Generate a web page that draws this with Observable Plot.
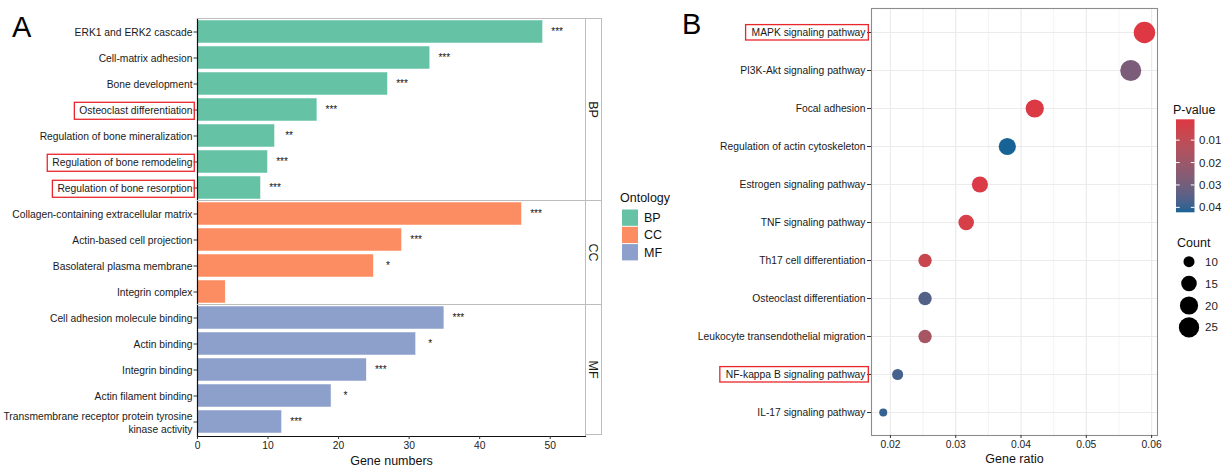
<!DOCTYPE html>
<html><head><meta charset="utf-8">
<script src="https://cdn.jsdelivr.net/npm/d3@7"></script>
<script src="https://cdn.jsdelivr.net/npm/@observablehq/plot@0.6"></script>
<style>
html,body{margin:0;padding:0;overflow:hidden;background:#fff;font-family:"Liberation Sans",Arial,sans-serif;}
#root{position:relative;width:1222px;height:466px;overflow:hidden;}
.panel{position:absolute;top:0;}
.tag{position:absolute;font-size:29px;line-height:29px;color:#000;font-family:"Liberation Sans",Arial,sans-serif;}
</style></head><body><div id="root"></div>
<script>
// ---------- Panel A data (GO enrichment) ----------
const goTerms = [
  "ERK1 and ERK2 cascade","Cell-matrix adhesion","Bone development","Osteoclast differentiation",
  "Regulation of bone mineralization","Regulation of bone remodeling","Regulation of bone resorption",
  "Collagen-containing extracellular matrix","Actin-based cell projection","Basolateral plasma membrane","Integrin complex",
  "Cell adhesion molecule binding","Actin binding","Integrin binding","Actin filament binding",
  "Transmembrane receptor protein tyrosine\nkinase activity"
];
const goCounts = [49,33,27,17,11,10,9, 46,29,25,4, 35,31,24,19,12];
const goOntology = ["BP","BP","BP","BP","BP","BP","BP","CC","CC","CC","CC","MF","MF","MF","MF","MF"];
const goStars = ["***","***","***","***","**","***","***","***","***","*","","***","*","***","*","***"];
const ontologies = ["BP","CC","MF"];
const ontologyColors = ["#66C2A5","#FC8D62","#8DA0CB"];
const goTicks = [0,10,20,30,40,50];
const goHighlight = ["Osteoclast differentiation","Regulation of bone remodeling","Regulation of bone resorption"];

// ---------- Panel B data (KEGG enrichment) ----------
const keggTerms = [
  "MAPK signaling pathway","PI3K-Akt signaling pathway","Focal adhesion","Regulation of actin cytoskeleton",
  "Estrogen signaling pathway","TNF signaling pathway","Th17 cell differentiation","Osteoclast differentiation",
  "Leukocyte transendothelial migration","NF-kappa B signaling pathway","IL-17 signaling pathway"
];
const keggRatio = [0.0589,0.0568,0.0421,0.0379,0.0337,0.0316,0.0253,0.0253,0.0253,0.0211,0.0189];
const keggCount = [28,27,20,18,16,15,12,12,12,10,9];
const keggP = [0.0007,0.028,0.0015,0.0422,0.002,0.003,0.0068,0.036,0.017,0.038,0.040];
const ratioTicks = [0.02,0.03,0.04,0.05,0.06];
const ratioMinor = [0.025,0.035,0.045,0.055];
const countBreaks = [10,15,20,25];
const pBreaks = [0.01,0.02,0.03,0.04];
const keggHighlight = ["MAPK signaling pathway","NF-kappa B signaling pathway"];

const FONT = "Liberation Sans, Arial, sans-serif";
const TICK_FS = 10.3;
const root = document.getElementById("root");
const SVGNS = "http://www.w3.org/2000/svg";

function boxLabels(svg, names, padL, padR, padV) {
  svg.querySelectorAll('g[aria-label="y-axis tick label"] text').forEach(t => {
    if (names.includes(t.textContent)) {
      const b = t.getBBox();
      const r = document.createElementNS(SVGNS, "rect");
      r.setAttribute("x", b.x - padL);
      r.setAttribute("y", b.y - padV);
      r.setAttribute("width", b.width + padL + padR);
      r.setAttribute("height", b.height + 2 * padV);
      r.setAttribute("fill", "none");
      r.setAttribute("stroke", "#E8262B");
      r.setAttribute("stroke-width", 1.3);
      if (t.getAttribute("transform")) r.setAttribute("transform", t.getAttribute("transform"));
      t.parentNode.appendChild(r);
    }
  });
}

// ---------- Panel A ----------
const goData = goTerms.map((t, i) => ({term: t, count: goCounts[i], ont: goOntology[i], stars: goStars[i]}));
const chartA = Plot.plot({
  width: 680, height: 466,
  marginLeft: 197, marginRight: 95, marginTop: 18, marginBottom: 30,
  style: {fontFamily: FONT, fontSize: TICK_FS + "px", color: "#222", background: "transparent", overflow: "visible"},
  x: {domain: [0, 55], ticks: goTicks, label: null},
  y: {domain: goTerms, paddingInner: 0.1, paddingOuter: 0.05, label: null},
  color: {domain: ontologies, range: ontologyColors},
  marks: [
    Plot.barX(goData, {x: "count", y: "term", fill: "ont", stroke: "white", strokeWidth: 0.5}),
    Plot.text(goData, {x: "count", y: "term", text: "stars", dx: 14, fontSize: 10, fill: "#111"}),
    Plot.frame({stroke: "#BDBDBD"}),
    Plot.frame({anchor: "left", stroke: "#111", strokeWidth: 1.2}),
    Plot.frame({anchor: "bottom", stroke: "#111", strokeWidth: 1.2}),
    Plot.axisX({ticks: goTicks, tickSize: 3, tickPadding: 2, stroke: "#333", fill: "#222", fontSize: TICK_FS, label: null}),
    Plot.axisY({tickSize: 3.5, tickPadding: 1.5, stroke: "#333", fill: "#1a1a1a", fontSize: TICK_FS, lineHeight: 1.3, label: null}),
    Plot.text(["Gene numbers"], {frameAnchor: "bottom", dy: 28, text: d => d, fontSize: 12.5, fill: "#111"})
  ]
});
chartA.classList.add("panel");
chartA.style.left = "0px";
root.appendChild(chartA);

(function decorateA() {
  const svg = d3.select(chartA);
  const sy = chartA.scale("y");
  const sx = chartA.scale("x");
  const x0 = sx.range[0], x1 = sx.range[1];
  const gap = (sy.step - sy.bandwidth) / 2;
  const stripW = 16;
  const g = svg.append("g");
  ontologies.forEach(o => {
    const terms = goTerms.filter((t, i) => goOntology[i] === o);
    const top = sy.apply(terms[0]) - gap;
    const bot = sy.apply(terms[terms.length - 1]) + sy.bandwidth + gap;
    g.append("rect").attr("x", x1 + 0.5).attr("y", top).attr("width", stripW).attr("height", bot - top)
      .attr("fill", "#fff").attr("stroke", "#BDBDBD");
    g.append("line").attr("x1", x0).attr("x2", x1).attr("y1", top).attr("y2", top).attr("stroke", "#BDBDBD");
    g.append("text").attr("transform", `translate(${x1 + 0.5 + stripW / 2},${(top + bot) / 2}) rotate(90)`)
      .attr("text-anchor", "middle").attr("dy", "0.35em").attr("font-size", 12.5).attr("font-family", FONT)
      .attr("fill", "#1a1a1a").text(o);
  });
  // Ontology legend
  const sc = chartA.scale("color");
  const lg = svg.append("g").attr("font-family", FONT).attr("text-anchor", "start");
  lg.append("text").attr("x", 620).attr("y", 201.5).attr("font-size", 12.5).attr("fill", "#111").text("Ontology");
  sc.domain.forEach((o, i) => {
    const y = 209.5 + i * 17.3;
    lg.append("rect").attr("x", 622).attr("y", y).attr("width", 16).attr("height", 16.3).attr("fill", sc.apply(o));
    lg.append("text").attr("x", 644).attr("y", y + 8.3).attr("dy", "0.35em").attr("font-size", 12.5).attr("fill", "#111").text(o);
  });
  boxLabels(chartA, goHighlight, 5, 1.5, 3);
})();

// ---------- Panel B ----------
const keggData = keggTerms.map((t, i) => ({term: t, ratio: keggRatio[i], count: keggCount[i], p: keggP[i]}));
const cMin = d3.min(keggCount), cMax = d3.max(keggCount);
const chartB = Plot.plot({
  width: 542, height: 466,
  marginLeft: 191, marginRight: 65, marginTop: 8, marginBottom: 31,
  style: {fontFamily: FONT, fontSize: TICK_FS + "px", color: "#222", background: "transparent", overflow: "visible"},
  x: {domain: [0.0171, 0.0609], label: null},
  y: {type: "point", domain: keggTerms, padding: 0.6, label: null},
  color: {type: "linear", domain: d3.extent(keggP), range: ["#DE3843", "#176395"], interpolate: d3.interpolateLab},
  r: {type: "sqrt", domain: [0, cMax - cMin], range: [4, 10.7]},
  marks: [
    Plot.gridX(ratioMinor, {stroke: "#F0F0F0", strokeOpacity: 1, strokeWidth: 0.8}),
    Plot.gridX(ratioTicks, {stroke: "#EBEBEB", strokeOpacity: 1, strokeWidth: 1.2}),
    Plot.gridY({stroke: "#EBEBEB", strokeOpacity: 1, strokeWidth: 1.2}),
    Plot.dot(keggData, {x: "ratio", y: "term", r: d => d.count - cMin, fill: "p"}),
    Plot.frame({stroke: "#8C8C8C", strokeWidth: 1.1}),
    Plot.axisX({ticks: ratioTicks, tickFormat: d3.format(".2f"), tickSize: 3, tickPadding: 2, stroke: "#333", fill: "#222", fontSize: TICK_FS, label: null}),
    Plot.axisY({tickSize: 4, tickPadding: 2, stroke: "#333", fill: "#1a1a1a", fontSize: TICK_FS, label: null}),
    Plot.text(["Gene ratio"], {frameAnchor: "bottom", dy: 27, text: d => d, fontSize: 12.5, fill: "#111"})
  ]
});
chartB.classList.add("panel");
chartB.style.left = "680px";
root.appendChild(chartB);

(function decorateB() {
  const svg = d3.select(chartB);
  const sc = chartB.scale("color");
  const sr = chartB.scale("r");
  const [pmin, pmax] = sc.domain;
  const lg = svg.append("g").attr("font-family", FONT).attr("text-anchor", "start");
  // P-value colorbar
  const bx = 496, by0 = 119.3, by1 = 212.3, bw = 18.5;
  const defs = svg.append("defs");
  const grad = defs.append("linearGradient").attr("id", "pgrad").attr("x1", 0).attr("y1", 0).attr("x2", 0).attr("y2", 1);
  d3.range(0, 1.0001, 0.05).forEach(t => grad.append("stop").attr("offset", t).attr("stop-color", sc.apply(pmin + t * (pmax - pmin))));
  lg.append("text").attr("x", 493).attr("y", 113.5).attr("font-size", 12.5).attr("fill", "#111").text("P-value");
  lg.append("rect").attr("x", bx).attr("y", by0).attr("width", bw).attr("height", by1 - by0).attr("fill", "url(#pgrad)");
  const py = d3.scaleLinear([pmin, pmax], [by0, by1]);
  pBreaks.forEach(p => {
    const y = py(p);
    lg.append("line").attr("x1", bx).attr("x2", bx + 3.7).attr("y1", y).attr("y2", y).attr("stroke", "#fff").attr("stroke-width", 1);
    lg.append("line").attr("x1", bx + bw - 3.7).attr("x2", bx + bw).attr("y1", y).attr("y2", y).attr("stroke", "#fff").attr("stroke-width", 1);
    lg.append("text").attr("x", bx + bw + 4.5).attr("y", y).attr("dy", "0.35em").attr("font-size", 11.5).attr("fill", "#222").text(d3.format(".2f")(p));
  });
  // Count legend
  lg.append("text").attr("x", 497).attr("y", 246.5).attr("font-size", 12.5).attr("fill", "#111").text("Count");
  countBreaks.forEach((c, i) => {
    const y = 261.7 + i * 21.9;
    lg.append("circle").attr("cx", 509).attr("cy", y).attr("r", sr.apply(c - cMin)).attr("fill", "#000");
    lg.append("text").attr("x", 525).attr("y", y).attr("dy", "0.35em").attr("font-size", 11.5).attr("fill", "#222").text(c);
  });
  boxLabels(chartB, keggHighlight, 6, 2, 2.2);
})();

// Panel tags
[["A", 12, 13], ["B", 682, 10]].forEach(([t, x, y]) => {
  const d = document.createElement("div");
  d.className = "tag"; d.textContent = t;
  d.style.left = x + "px"; d.style.top = y + "px";
  root.appendChild(d);
});
</script>
</body></html>
